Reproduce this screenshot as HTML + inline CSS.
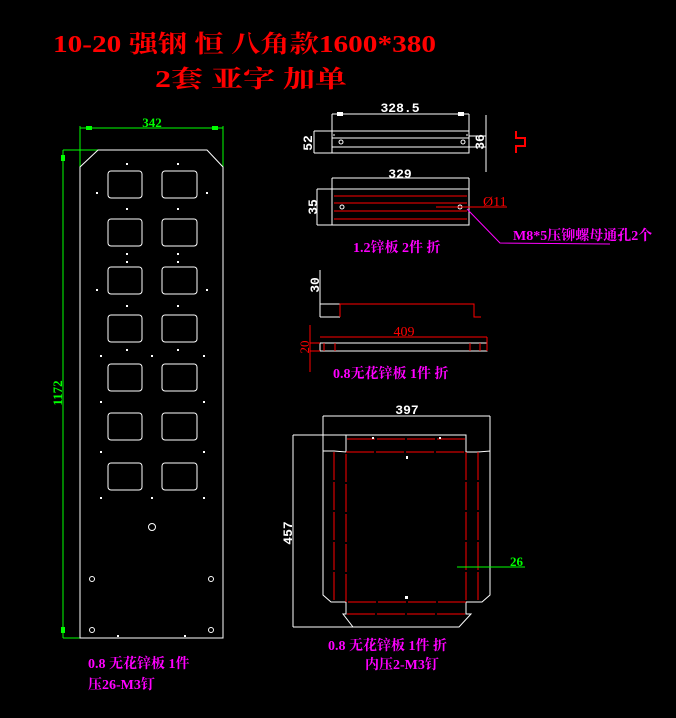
<!DOCTYPE html>
<html><head><meta charset="utf-8"><style>
html,body{margin:0;padding:0;background:#000;width:676px;height:718px;overflow:hidden}
svg{display:block}
text{font-family:"Liberation Serif","Noto Serif CJK SC",serif}
.m{fill:#ff00ff;font-size:14px;font-weight:bold}
.w{fill:#fff;font-size:13px;font-family:"Liberation Mono",monospace;font-weight:bold}
</style></head><body>
<svg width="676" height="718" viewBox="0 0 676 718" xmlns="http://www.w3.org/2000/svg">
<rect width="676" height="718" fill="#000"/>
<text x="53" y="52" fill="#ff0000" font-size="24" font-weight="bold" textLength="383" lengthAdjust="spacingAndGlyphs">10-20 强钢 恒 八角款1600*380</text>
<text x="155" y="87" fill="#ff0000" font-size="24" font-weight="bold" textLength="192" lengthAdjust="spacingAndGlyphs">2套   亚字 加单</text>

<g stroke="#00ff00" stroke-width="1" fill="none">
<line x1="80" y1="128" x2="223" y2="128"/>
<line x1="80" y1="126" x2="80" y2="189"/>
<line x1="223" y1="126" x2="223" y2="189"/>
<line x1="63" y1="150" x2="98" y2="150"/>
<line x1="63" y1="150" x2="63" y2="638"/>
<line x1="63" y1="638" x2="80" y2="638"/>
</g>
<g fill="#00ff00"><rect x="86" y="126" width="6" height="4"/><rect x="212" y="126" width="6" height="4"/><rect x="61" y="155" width="4" height="6"/><rect x="61" y="627" width="4" height="6"/></g>
<text x="152" y="127" fill="#00ff00" font-size="13" font-weight="bold" text-anchor="middle" font-family="Liberation Mono">342</text>
<text transform="translate(62,393) rotate(-90)" fill="#00ff00" font-size="13" font-weight="bold" text-anchor="middle" font-family="Liberation Mono">1172</text>
<g stroke="#fff" stroke-width="1" fill="none">
<path d="M98 150 H207 L223 167 V638 H80 V167 Z"/>
<g id="r1">
<rect x="108" y="171" width="34" height="27" rx="3"/><rect x="162" y="171" width="35" height="27" rx="3"/>
</g>
<use href="#r1" y="48"/><use href="#r1" y="96"/><use href="#r1" y="144"/><use href="#r1" y="193"/><use href="#r1" y="242"/><use href="#r1" y="292"/>
<circle cx="152" cy="527" r="3.5"/>
<circle cx="92" cy="579" r="2.5"/><circle cx="211" cy="579" r="2.5"/>
<circle cx="92" cy="630" r="2.5"/><circle cx="211" cy="630" r="2.5"/>
</g>
<g fill="#fff">
<rect x="126" y="163" width="2" height="2"/><rect x="177" y="163" width="2" height="2"/>
<rect x="96" y="192" width="2" height="2"/><rect x="206" y="192" width="2" height="2"/>
<rect x="126" y="208" width="2" height="2"/><rect x="177" y="208" width="2" height="2"/>
<rect x="126" y="253" width="2" height="2"/><rect x="177" y="253" width="2" height="2"/>
<rect x="126" y="261" width="2" height="2"/><rect x="177" y="261" width="2" height="2"/>
<rect x="96" y="289" width="2" height="2"/><rect x="206" y="289" width="2" height="2"/>
<rect x="126" y="305" width="2" height="2"/><rect x="177" y="305" width="2" height="2"/>
<rect x="126" y="349" width="2" height="2"/><rect x="177" y="349" width="2" height="2"/>
<rect x="100" y="355" width="2" height="2"/><rect x="151" y="355" width="2" height="2"/><rect x="203" y="355" width="2" height="2"/>
<rect x="100" y="401" width="2" height="2"/><rect x="203" y="401" width="2" height="2"/>
<rect x="100" y="451" width="2" height="2"/><rect x="203" y="451" width="2" height="2"/>
<rect x="100" y="497" width="2" height="2"/><rect x="151" y="497" width="2" height="2"/><rect x="203" y="497" width="2" height="2"/>
<rect x="117" y="635" width="2" height="2"/><rect x="184" y="635" width="2" height="2"/>
</g>
<text class="m" x="88" y="668">0.8 无花锌板 1件</text>
<text class="m" x="88" y="689">压26-M3钉</text>

<g stroke="#fff" stroke-width="1" fill="none">
<line x1="332" y1="114" x2="469" y2="114"/>
<line x1="332" y1="114" x2="332" y2="131"/><line x1="469" y1="114" x2="469" y2="131"/>
<rect x="332" y="131" width="137" height="22"/>
<line x1="332" y1="138" x2="469" y2="138"/><line x1="332" y1="147" x2="469" y2="147"/>
<line x1="314" y1="131" x2="332" y2="131"/><line x1="314" y1="153" x2="332" y2="153"/><line x1="314" y1="131" x2="314" y2="153"/>
<line x1="469" y1="136" x2="486" y2="136"/><line x1="469" y1="147" x2="486" y2="147"/>
<line x1="486" y1="115" x2="486" y2="172"/>
<circle cx="341" cy="142" r="2"/><circle cx="463" cy="142" r="2"/>
<line x1="334" y1="134" x2="334" y2="136"/><line x1="467" y1="134" x2="467" y2="136"/>
</g>
<g fill="#fff"><rect x="337" y="112" width="6" height="4"/><rect x="458" y="112" width="6" height="4"/></g>
<text class="w" x="400" y="112" text-anchor="middle" font-size="14">328.5</text>
<text class="w" transform="translate(312,143) rotate(-90)" text-anchor="middle">52</text>
<text class="w" transform="translate(484,142) rotate(-90)" text-anchor="middle">36</text>
<path d="M516 131 V138 H525 V146 H516 V153" stroke="#ff0000" stroke-width="2" fill="none"/>

<g stroke="#fff" stroke-width="1" fill="none">
<line x1="332" y1="178" x2="469" y2="178"/>
<line x1="332" y1="178" x2="332" y2="189"/><line x1="469" y1="178" x2="469" y2="189"/>
<rect x="332" y="189" width="137" height="36"/>
<line x1="317" y1="189" x2="332" y2="189"/><line x1="317" y1="225" x2="332" y2="225"/><line x1="317" y1="189" x2="317" y2="225"/>
<circle cx="342" cy="207" r="2"/><circle cx="460" cy="207" r="2"/>
</g>
<g stroke="#ff0000" stroke-width="1"><line x1="334" y1="196" x2="467" y2="196"/><line x1="334" y1="203" x2="467" y2="203"/><line x1="334" y1="211" x2="467" y2="211"/><line x1="334" y1="219" x2="467" y2="219"/>
<line x1="436" y1="207" x2="507" y2="207"/></g>
<text class="w" x="400" y="178" text-anchor="middle" font-size="14">329</text>
<text class="w" transform="translate(317,207) rotate(-90)" text-anchor="middle">35</text>
<text x="483" y="206" fill="#ff0000" font-size="14" font-family="Liberation Mono">Ø11</text>
<polyline points="467,209 500,243 610,244" stroke="#ff00ff" fill="none"/>
<text class="m" x="513" y="240" font-size="13">M8*5压铆螺母通孔2个</text>
<text class="m" x="353" y="252">1.2锌板 2件 折</text>

<g stroke="#fff" stroke-width="1" fill="none">
<line x1="320" y1="270" x2="320" y2="317"/>
<line x1="320" y1="304" x2="340" y2="304"/><line x1="320" y1="317" x2="340" y2="317"/>
<rect x="320" y="343" width="167" height="8"/>
</g>
<polyline points="340,317 340,304 474,304 474,317 481,317" stroke="#ff0000" fill="none"/>
<g stroke="#ff0000"><line x1="320" y1="337" x2="487" y2="337"/><line x1="487" y1="337" x2="487" y2="351"/><line x1="310" y1="325" x2="310" y2="372"/><line x1="310" y1="343" x2="320" y2="343"/><line x1="310" y1="351" x2="320" y2="351"/>
<line x1="324" y1="343" x2="324" y2="351"/><line x1="335" y1="343" x2="335" y2="351"/><line x1="470" y1="343" x2="470" y2="351"/><line x1="480" y1="343" x2="480" y2="351"/></g>
<text x="404" y="336" fill="#ff0000" font-size="14" text-anchor="middle" font-family="Liberation Mono">409</text>
<text transform="translate(309,347) rotate(-90)" fill="#ff0000" font-size="13" text-anchor="middle" font-family="Liberation Mono">20</text>
<text class="w" transform="translate(319,285) rotate(-90)" text-anchor="middle">30</text>
<text class="m" x="333" y="378">0.8无花锌板 1件 折</text>

<g stroke="#fff" stroke-width="1" fill="none">
<line x1="323" y1="416" x2="490" y2="416"/>
<line x1="323" y1="416" x2="323" y2="451"/><line x1="490" y1="416" x2="490" y2="451"/>
<path d="M293 435 H466 V452 H478 L490 451 V595 L482 602 H466 V614 L471 614 L459 627 H353 L343 614 H346 V602 H331 L323 595 V451 H334 L346 452 V435"/>
<line x1="293" y1="435" x2="293" y2="627"/><line x1="293" y1="627" x2="353" y2="627"/>
</g>
<g stroke="#ff0000" stroke-width="1" stroke-dasharray="28 2" fill="none">
<line x1="347" y1="439" x2="466" y2="439"/>
<rect x="346" y="452" width="120" height="150"/>
<line x1="334" y1="452" x2="334" y2="602"/><line x1="478" y1="452" x2="478" y2="602"/>
<line x1="347" y1="614" x2="466" y2="614"/>
</g>
<g fill="#fff"><rect x="372" y="437" width="2" height="2"/><rect x="439" y="437" width="2" height="2"/><rect x="406" y="456" width="2" height="3"/><rect x="405" y="596" width="3" height="3"/></g>
<text class="w" x="407" y="414" text-anchor="middle" font-size="14">397</text>
<text class="w" transform="translate(292,533) rotate(-90)" text-anchor="middle" font-size="14">457</text>
<line x1="457" y1="567" x2="525" y2="567" stroke="#00ff00"/>
<text x="510" y="566" fill="#00ff00" font-size="13" font-weight="bold" font-family="Liberation Mono">26</text>
<text class="m" x="328" y="650">0.8 无花锌板 1件 折</text>
<text class="m" x="365" y="669">内压2-M3钉</text>
</svg>
</body></html>
